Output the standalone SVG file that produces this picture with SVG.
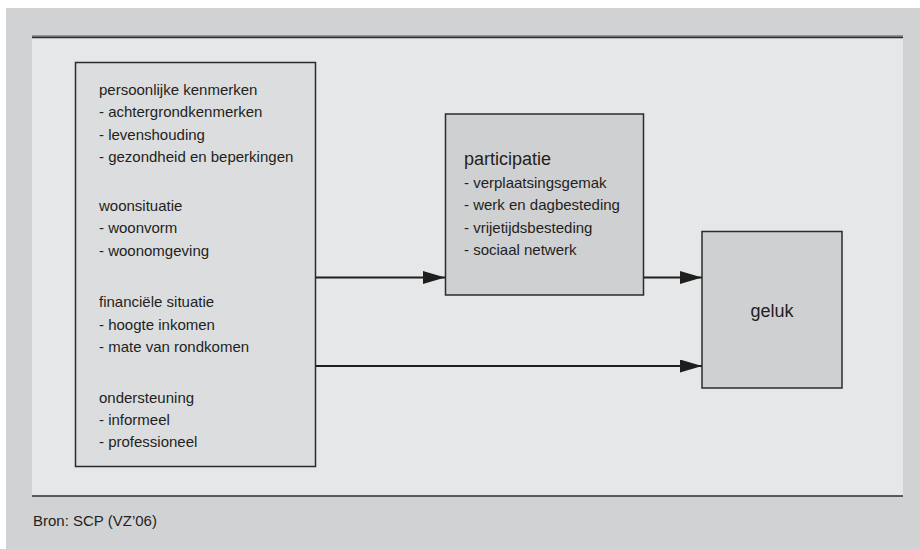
<svg xmlns="http://www.w3.org/2000/svg" width="920" height="549" viewBox="0 0 920 549">
<style>
  text { font-family: "Liberation Sans", Arial, sans-serif; font-size: 15px; fill: #231f20; }
  .big { font-size: 18px; }
  .box { stroke: #2b2b2b; stroke-width: 1.5; }
  .conn { stroke: #1e1e1e; stroke-width: 2; fill: none; }
</style>
<defs>
  <marker id="arrow" markerUnits="userSpaceOnUse" markerWidth="22" markerHeight="14" refX="22" refY="6.5" orient="auto">
    <path d="M0,0 L22,6.5 L0,13 Z" fill="#1e1e1e"/>
  </marker>
</defs>
<rect x="0" y="0" width="920" height="549" fill="#ffffff"/>
<rect x="6" y="8" width="914" height="541" fill="#d1d2d4"/>
<rect x="32" y="37" width="871" height="459" fill="#e6e7e8"/>
<line x1="32" y1="35.8" x2="903" y2="35.8" stroke="#7a7a7a" stroke-width="1"/>
<line x1="32" y1="37.3" x2="903" y2="37.3" stroke="#2e2e2e" stroke-width="1.8"/>
<line x1="32" y1="496" x2="903" y2="496" stroke="#2e2e2e" stroke-width="1.5"/>

<g id="connectors">
  <line class="conn" x1="316" y1="277.5" x2="445" y2="277.5" marker-end="url(#arrow)"/>
  <line class="conn" x1="643" y1="277.5" x2="702" y2="277.5" marker-end="url(#arrow)"/>
  <line class="conn" x1="316" y1="366" x2="702" y2="366" marker-end="url(#arrow)"/>
</g>

<g id="node-factoren">
  <rect class="box" x="75.5" y="62.5" width="240" height="404" fill="#dcdddf"/>
  <text x="99" y="95">persoonlijke kenmerken</text>
  <text x="99" y="117.3">- achtergrondkenmerken</text>
  <text x="99" y="139.6">- levenshouding</text>
  <text x="99" y="162">- gezondheid en beperkingen</text>
  <text x="99" y="211">woonsituatie</text>
  <text x="99" y="233.3">- woonvorm</text>
  <text x="99" y="256">- woonomgeving</text>
  <text x="99" y="307">financiële situatie</text>
  <text x="99" y="329.5">- hoogte inkomen</text>
  <text x="99" y="352">- mate van rondkomen</text>
  <text x="99" y="403">ondersteuning</text>
  <text x="99" y="425">- informeel</text>
  <text x="99" y="447">- professioneel</text>
</g>

<g id="node-participatie">
  <rect class="box" x="445.5" y="114" width="198" height="181" fill="#cfd0d2"/>
  <text class="big" x="464" y="165">participatie</text>
  <text x="464" y="187.5">- verplaatsingsgemak</text>
  <text x="464" y="210">- werk en dagbesteding</text>
  <text x="464" y="232.5">- vrijetijdsbesteding</text>
  <text x="464" y="254.5">- sociaal netwerk</text>
</g>

<g id="node-geluk">
  <rect class="box" x="702" y="231.5" width="140" height="156.5" fill="#cfd0d2"/>
  <text class="big" x="772" y="317" text-anchor="middle">geluk</text>
</g>

<text x="33" y="526">Bron: SCP (VZ’06)</text>
</svg>
